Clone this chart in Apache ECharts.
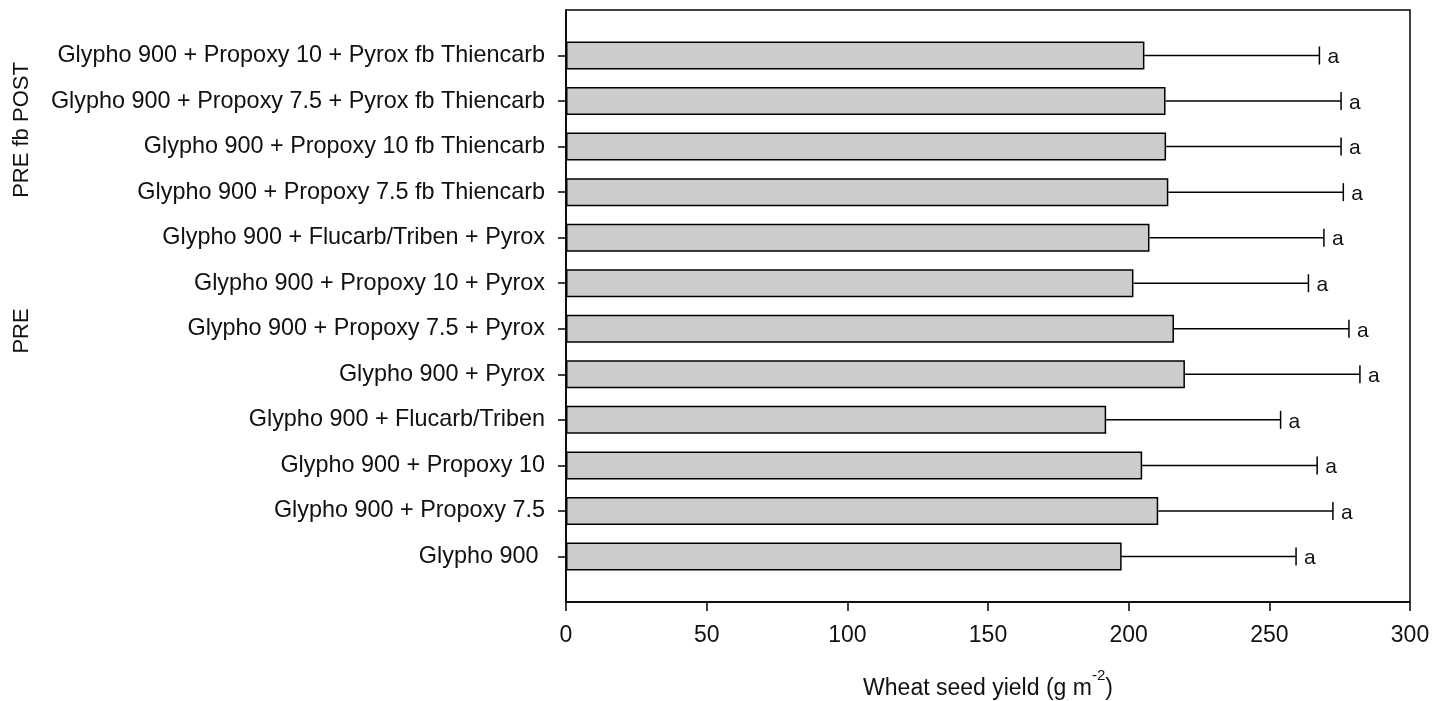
<!DOCTYPE html>
<html>
<head>
<meta charset="utf-8">
<script src="https://cdn.jsdelivr.net/npm/echarts@6/dist/echarts.min.js"></script>
<style>
  html, body { margin: 0; padding: 0; background: #fff; }
  #chart { width: 1435px; height: 701px; }
</style>
</head>
<body>
<div id="chart"></div>
<script>
// Treatments, listed top to bottom
const treatments = [
  'Glypho 900 + Propoxy 10 + Pyrox fb Thiencarb',
  'Glypho 900 + Propoxy 7.5 + Pyrox fb Thiencarb',
  'Glypho 900 + Propoxy 10 fb Thiencarb',
  'Glypho 900 + Propoxy 7.5 fb Thiencarb',
  'Glypho 900 + Flucarb/Triben + Pyrox',
  'Glypho 900 + Propoxy 10 + Pyrox',
  'Glypho 900 + Propoxy 7.5 + Pyrox',
  'Glypho 900 + Pyrox',
  'Glypho 900 + Flucarb/Triben',
  'Glypho 900 + Propoxy 10',
  'Glypho 900 + Propoxy 7.5',
  'Glypho 900 '
];
// Mean wheat seed yield (g m-2)
const seedYield = [205.6, 213.1, 213.3, 214.1, 207.4, 201.7, 216.1, 220.0, 192.0, 204.8, 210.5, 197.5];
// Upper error bar length (g m-2)
const errorBar = [62.2, 62.4, 62.2, 62.2, 62.0, 62.2, 62.2, 62.2, 62.0, 62.2, 62.1, 62.0];
// Mean separation letters
const letters = ['a', 'a', 'a', 'a', 'a', 'a', 'a', 'a', 'a', 'a', 'a', 'a'];
// Timing groups shown on the far left
const groupNames = ['PRE fb POST', 'PRE'];
const xTicks = { min: 0, max: 300, step: 50 };

const FONT = '"Liberation Sans", Arial, Helvetica, sans-serif';
const TEXT = '#111';

// One empty slot above and below the treatments leaves a gap at each end of the axis
const yCats = [''].concat(treatments, ['']);
const barData = [null].concat(seedYield, [null]);
const errData = seedYield.map((v, i) => [v, errorBar[i], i + 1, i]);

const chart = echarts.init(document.getElementById('chart'), null, { renderer: 'canvas' });

chart.setOption({
  animation: false,
  backgroundColor: '#fff',
  textStyle: { fontFamily: FONT },
  grid: {
    left: 566, right: 25, top: 10, bottom: 99,
    containLabel: false,
    outerBoundsMode: 'none',
    show: true, borderColor: '#000', borderWidth: 1.5, backgroundColor: 'transparent'
  },
  xAxis: {
    type: 'value',
    min: xTicks.min, max: xTicks.max, interval: xTicks.step,
    axisLine: { show: true, lineStyle: { color: '#000', width: 1.5 } },
    axisTick: { show: true, inside: false, length: 9, lineStyle: { color: '#000', width: 1.5 } },
    axisLabel: { color: TEXT, fontSize: 23, fontFamily: FONT, margin: 22 },
    splitLine: { show: false },
    name: 'Wheat seed yield (g m{sup|-2})',
    nameLocation: 'middle',
    nameGap: 66,
    nameTextStyle: {
      color: TEXT, fontSize: 23, fontFamily: FONT,
      rich: { sup: { fontSize: 15, fontFamily: FONT, color: TEXT, padding: [0, 0, 26, 0] } }
    }
  },
  yAxis: {
    type: 'category',
    data: yCats,
    inverse: true,
    boundaryGap: false,
    axisLine: { show: true, lineStyle: { color: '#000', width: 1.5 } },
    axisTick: {
      show: true, inside: false, length: 8,
      interval: (idx) => idx > 0 && idx < yCats.length - 1,
      lineStyle: { color: '#000', width: 1.5 }
    },
    axisLabel: { color: TEXT, fontSize: 23.4, fontFamily: FONT, margin: 21, interval: 0 },
    splitLine: { show: false }
  },
  series: [
    {
      type: 'bar',
      data: barData,
      barWidth: 28,
      itemStyle: { color: '#cccccc', borderColor: '#000', borderWidth: 1.5 },
      z: 2
    },
    {
      type: 'custom',
      data: errData,
      z: 3,
      renderItem: (params, api) => {
        const v = api.value(0), e = api.value(1), idx = api.value(2);
        const start = api.coord([v, idx]);
        const end = api.coord([v + e, idx]);
        const y = start[1];
        return {
          type: 'group',
          children: [
            { type: 'line', shape: { x1: start[0], y1: y, x2: end[0], y2: y },
              style: { stroke: '#000', lineWidth: 1.5 } },
            { type: 'line', shape: { x1: end[0], y1: y - 9, x2: end[0], y2: y + 9 },
              style: { stroke: '#000', lineWidth: 1.5 } },
            { type: 'text', x: end[0] + 8, y: y + 2,
              style: { text: letters[api.value(3)], fill: TEXT, font: '21px ' + FONT,
                       verticalAlign: 'middle', align: 'left' } }
          ]
        };
      }
    }
  ],
  graphic: [
    { type: 'text', x: 22, y: 130, rotation: Math.PI / 2,
      style: { text: groupNames[0], fill: TEXT, font: '22px ' + FONT, align: 'center', verticalAlign: 'middle' } },
    { type: 'text', x: 22, y: 331, rotation: Math.PI / 2,
      style: { text: groupNames[1], fill: TEXT, font: '22px ' + FONT, align: 'center', verticalAlign: 'middle' } }
  ]
});
</script>
</body>
</html>
